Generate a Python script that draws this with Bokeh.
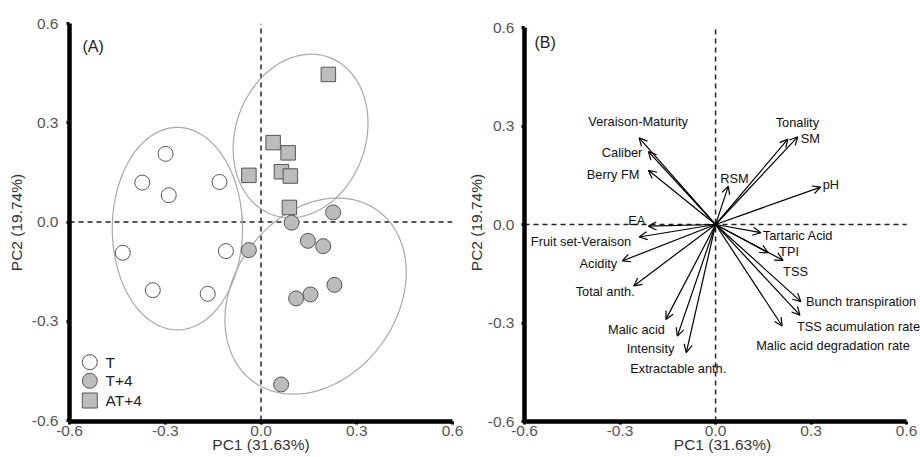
import numpy as np
from bokeh.plotting import figure
from bokeh.layouts import row
from bokeh.models import ColumnDataSource, Arrow, OpenHead, FixedTicker, Range1d
from bokeh.core.properties import value
from bokeh.embed import file_html
from bokeh.resources import INLINE

# ---------------- data ----------------
# Panel A: scores
t_pc1 = [-0.299, -0.372, -0.289, -0.130, -0.433, -0.110, -0.339, -0.167]
t_pc2 = [0.206, 0.119, 0.081, 0.121, -0.093, -0.088, -0.206, -0.217]
t4_pc1 = [0.226, 0.096, -0.038, 0.147, 0.195, 0.230, 0.155, 0.110, 0.063]
t4_pc2 = [0.029, -0.002, -0.085, -0.057, -0.073, -0.190, -0.219, -0.231, -0.491]
at4_pc1 = [0.211, 0.038, 0.085, -0.038, 0.064, 0.092, 0.089]
at4_pc2 = [0.446, 0.240, 0.209, 0.141, 0.152, 0.139, 0.044]
groups = ["T", "T+4", "AT+4"]

# confidence ellipses (centre, semi-axes, angle of major axis in degrees)
ell_cx = [-0.262, 0.171, 0.124]
ell_cy = [-0.020, -0.224, 0.260]
ell_a = [0.306, 0.324, 0.254]
ell_b = [0.204, 0.252, 0.203]
ell_angle = [90.0, 50.0, 67.5]

# Panel B: loadings
variables = ["Veraison-Maturity", "Caliber", "Berry FM", "RSM", "Tonality", "SM", "pH",
             "EA", "Fruit set-Veraison", "Acidity", "Total anth.", "Malic acid",
             "Intensity", "Extractable anth.", "Tartaric Acid", "TPI", "TSS",
             "Bunch transpiration", "TSS acumulation rate", "Malic acid degradation rate"]
load_pc1 = [-0.240, -0.211, -0.211, 0.040, 0.227, 0.258, 0.330,
            -0.211, -0.240, -0.293, -0.257, -0.156,
            -0.120, -0.092, 0.142, 0.165, 0.212,
            0.268, 0.265, 0.209]
load_pc2 = [0.264, 0.222, 0.165, 0.117, 0.260, 0.267, 0.114,
            -0.005, -0.038, -0.111, -0.187, -0.289,
            -0.340, -0.390, -0.025, -0.086, -0.109,
            -0.235, -0.276, -0.309]

ticks = [-0.6, -0.3, 0.0, 0.3, 0.6]
tick_labels = ["-0.6", "-0.3", "0.0", "0.3", "0.6"]
x_title = "PC1 (31.63%)"
y_title = "PC2 (19.74%)"

# label placement (style): offsets in px and alignment
lab_dx = [-1, -6, -9, -8, 9.5, 3, 2, -3, -8, -5, 1, -1, -3, -8, 2, 11, 0, 5, -3, -26]
lab_dy = [-16, 1, 4, -8, -17, 2, -3, -6, 5, 3, 6, 10, 12, 16, 3, -1, 11, 0, 11, 20]
lab_align = ["center", "right", "right", "left", "center", "left", "left",
             "right", "right", "right", "right", "right", "right", "center",
             "left", "left", "left", "left", "left", "left"]

FONT = "Liberation Sans"
lim = (ticks[0], ticks[-1])
TOP, BOTTOM = 23, 36   # shared frame borders (plots in a row share frame edges)


def style_axes(p, y_label_standoff, y_major_standoff):
    for ax in (p.xaxis[0], p.yaxis[0]):
        ax.ticker = FixedTicker(ticks=ticks)
        ax.major_label_overrides = {t: s for t, s in zip(ticks, tick_labels)}
        ax.axis_line_width = 4.5
        ax.axis_line_color = "black"
        ax.major_tick_line_width = 3
        ax.major_tick_line_color = "black"
        ax.major_tick_in = 0
        ax.major_tick_out = 3
        ax.minor_tick_line_color = None
        ax.major_label_text_font = FONT
        ax.major_label_text_font_size = "15.5px"
        ax.major_label_text_color = "#555555"
        ax.axis_label_text_font = FONT
        ax.axis_label_text_font_size = "15.5px"
        ax.axis_label_text_font_style = "normal"
        ax.axis_label_text_color = "#333333"
        ax.bounds = lim
    p.xaxis[0].axis_label = x_title
    p.yaxis[0].axis_label = y_title
    p.xaxis[0].major_label_standoff = 1
    p.xaxis[0].axis_label_standoff = -3
    p.yaxis[0].major_label_standoff = y_major_standoff
    p.yaxis[0].axis_label_standoff = y_label_standoff
    p.xgrid.grid_line_color = None
    p.ygrid.grid_line_color = None
    p.outline_line_color = None


def dashed_zero_lines(p):
    p.line(x=[0, 0], y=list(lim), line_color="#222222", line_width=1.5, line_dash="5 4")
    p.line(x=list(lim), y=[0, 0], line_color="#222222", line_width=1.5, line_dash="5 4")


# ---------------- Panel A ----------------
WA, HA = 464, 457
pa = figure(width=WA, height=HA, output_backend="svg", toolbar_location=None,
            x_range=Range1d(-0.6, 0.6), y_range=Range1d(-0.603, 0.6),
            min_border_left=69, min_border_right=12, min_border_top=TOP, min_border_bottom=BOTTOM)
style_axes(pa, 4, 8)
dashed_zero_lines(pa)

t = np.linspace(0, 2 * np.pi, 200)
for cx, cy, a, b, ang in zip(ell_cx, ell_cy, ell_a, ell_b, ell_angle):
    th = np.deg2rad(ang)
    ex = cx + a * np.cos(t) * np.cos(th) - b * np.sin(t) * np.sin(th)
    ey = cy + a * np.cos(t) * np.sin(th) + b * np.sin(t) * np.cos(th)
    pa.line(ex, ey, line_color="#a8a8a8", line_width=1.2)

pa.scatter(t_pc1, t_pc2, marker="circle", size=15, fill_color="white", line_color="#555555", line_width=1)
pa.scatter(t4_pc1, t4_pc2, marker="circle", size=15, fill_color="#bcbcbc", line_color="#555555", line_width=1)
pa.scatter(at4_pc1, at4_pc2, marker="square", size=14.5, fill_color="#bcbcbc", line_color="#555555", line_width=1)

# legend (manual, positioned in pixels from the plot corner at (-0.6, 0.6))
fw, fh = 383.0, 397.0
def fx(px):
    return lim[0] + px / fw * (lim[1] - lim[0])
def fy(py):
    return lim[1] - py / fh * (lim[1] - lim[0])
leg_rows = [338.7, 357.3, 377.0]
leg_markers = ["circle", "circle", "square"]
leg_fill = ["white", "#bcbcbc", "#bcbcbc"]
for g, r, m, f in zip(groups, leg_rows, leg_markers, leg_fill):
    pa.scatter([fx(20.3)], [fy(r)], marker=m, size=15, fill_color=f, line_color="#555555", line_width=1)
    pa.text([fx(36)], [fy(r)], text=[g], text_font=value(FONT), text_font_size="15.5px",
            text_color="#222222", text_baseline="middle", text_align="left")

pa.text([lim[0]], [lim[1]], text=["(A)"], x_offset=13, y_offset=23, text_font=value(FONT),
        text_font_size="16px", text_color="#222222", text_baseline="middle", text_align="left")

# ---------------- Panel B ----------------
WB, HB = 456, 457
pb = figure(width=WB, height=HB, output_backend="svg", toolbar_location=None,
            x_range=Range1d(-0.6, 0.6435), y_range=Range1d(-0.6, 0.6122),
            min_border_left=54, min_border_right=0, min_border_top=TOP, min_border_bottom=BOTTOM)
style_axes(pb, 0, 7)
dashed_zero_lines(pb)

src = ColumnDataSource(dict(name=variables, pc1=load_pc1, pc2=load_pc2,
                            dx=lab_dx, dy=lab_dy, align=lab_align))
pb.add_layout(Arrow(end=OpenHead(size=8, line_width=1.2, line_color="black"),
                    x_start=0, y_start=0, x_end="pc1", y_end="pc2", source=src,
                    line_width=1.2, line_color="black"))
pb.text(x="pc1", y="pc2", text="name", x_offset="dx", y_offset="dy", text_align="align",
        text_baseline="middle", text_font=value(FONT), text_font_size="12.8px",
        text_color="#111111", source=src)

pb.text([lim[0]], [lim[1]], text=["(B)"], x_offset=10, y_offset=15, text_font=value(FONT),
        text_font_size="16px", text_color="#222222", text_baseline="middle", text_align="left")

layout = row(pa, pb)
open("out.html", "w").write(file_html(layout, INLINE))
